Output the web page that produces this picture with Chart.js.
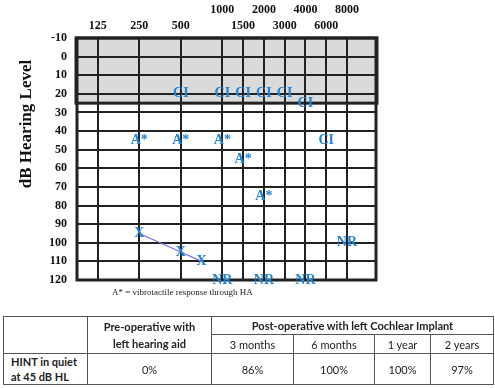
<!DOCTYPE html>
<html>
<head>
<meta charset="utf-8">
<script src="https://cdn.jsdelivr.net/npm/chart.js@4.4.1/dist/chart.umd.min.js"></script>
<style>
  body { margin: 0; background: #fff; width: 495px; height: 388px; position: relative; overflow: hidden; }
  #audiogram { position: absolute; left: 0; top: 0; }
  #note { position: absolute; left: 112px; top: 287px; font: 9px "Liberation Serif", serif; color: #222; white-space: nowrap; }
  #hint { position: absolute; left: 3px; top: 316px; border-collapse: collapse;
          font-family: Lato, sans-serif; font-size: 11px; line-height: 17px; color: #222; }
  #hint td { border: 1px solid #555; text-align: center; padding: 0; white-space: nowrap; }
  #hint td > div { overflow: hidden; }
  #hint .b { font-weight: bold; }
  #hint .row3 td { line-height: 15px; }
</style>
</head>
<body>
<canvas id="audiogram" width="495" height="300"></canvas>
<div id="note">A* = vibrotactile response through HA</div>
<table id="hint"></table>
<script>
// frequency axis (Hz) and hearing level axis (dB HL)
var freqLabels = [125, 250, 500, 1000, 1500, 2000, 3000, 4000, 6000, 8000];
var topRowFreqs = [1000, 2000, 4000, 8000];

// CI = aided thresholds with cochlear implant
var ciFreq = [500, 1000, 1500, 2000, 3000, 4000, 6000];
var ciLevel = [20, 20, 20, 20, 20, 25, 45];

// A* = vibrotactile response through hearing aid
var vibroFreq = [250, 500, 1000, 1500, 2000];
var vibroLevel = [45, 45, 45, 55, 75];

// X = unaided left ear
var leftFreq = [250, 500, 750];
var leftLevel = [95, 105, 110];

// NR = no response
var nrFreq = [1000, 2000, 4000, 8000];
var nrLevel = [120, 120, 120, 100];

// table below the audiogram
var hintPeriods = ['3 months', '6 months', '1 year', '2 years'];
var hintPreOp = '0%';
var hintPostOp = ['86%', '100%', '100%', '97%'];
var colWidths = [83, 123, 81, 80, 55, 62];

var markerBlue = '#2383d3';
var serif = '"Liberation Serif", "Times New Roman", serif';

// octaves at whole steps, inter-octaves half way between
function xPos(f) {
    var o = Math.log2(f / 125);
    var k = Math.floor(o + 1e-9);
    return Math.abs(f - 125 * Math.pow(2, k)) < 1e-6 ? k : k + 0.5;
}

function points(freqs, levels) {
    return freqs.map(function (f, i) { return { x: xPos(f), y: levels[i] }; });
}

// grey "normal hearing" band with heavy border
var normalBand = {
    id: 'normalBand',
    beforeDraw: function (chart) {
        var a = chart.chartArea, y = chart.scales.y, ctx = chart.ctx;
        var top = y.getPixelForValue(-10), bot = y.getPixelForValue(25);
        ctx.save();
        ctx.fillStyle = '#dadada';
        ctx.fillRect(a.left, top, a.right - a.left, bot - top);
        ctx.restore();
    },
    beforeDatasetsDraw: function (chart) {
        var a = chart.chartArea, y = chart.scales.y, ctx = chart.ctx;
        var top = y.getPixelForValue(-10), bot = y.getPixelForValue(25);
        ctx.save();
        ctx.strokeStyle = '#222';
        ctx.lineWidth = 3;
        ctx.strokeRect(a.left - 1, top, a.right - a.left + 2, bot - top);
        ctx.strokeRect(a.left, a.top, a.right - a.left, a.bottom - a.top);
        ctx.restore();
    }
};

// symbols drawn as text at each point
var textMarkers = {
    id: 'textMarkers',
    afterDatasetsDraw: function (chart) {
        var ctx = chart.ctx;
        chart.data.datasets.forEach(function (ds, i) {
            var meta = chart.getDatasetMeta(i);
            ctx.save();
            ctx.font = 'bold 14px ' + serif;
            ctx.fillStyle = markerBlue;
            ctx.textAlign = 'center';
            ctx.textBaseline = 'middle';
            meta.data.forEach(function (pt) {
                ctx.fillText(ds.marker, pt.x, pt.y);
            });
            ctx.restore();
        });
    },
    afterDraw: function (chart) {
        var ctx = chart.ctx;
        ctx.save();
        ctx.translate(27, 124);
        ctx.rotate(-Math.PI / 2);
        ctx.font = 'bold 17px ' + serif;
        ctx.fillStyle = '#111';
        ctx.textAlign = 'center';
        ctx.textBaseline = 'middle';
        ctx.fillText('dB Hearing Level', 0, 0);
        ctx.restore();
    }
};

var tickFont = { family: serif, weight: 'bold', size: 12, lineHeight: 1.35 };

new Chart(document.getElementById('audiogram'), {
    type: 'scatter',
    data: {
        datasets: [
            { marker: 'CI', data: points(ciFreq, ciLevel), pointRadius: 0 },
            { marker: 'A*', data: points(vibroFreq, vibroLevel), pointRadius: 0 },
            { marker: 'X', data: points(leftFreq, leftLevel), pointRadius: 0,
              showLine: true, borderColor: '#7272f0', borderWidth: 1.2 },
            { marker: 'NR', data: points(nrFreq, nrLevel), pointRadius: 0 }
        ]
    },
    options: {
        responsive: false,
        animation: false,
        layout: { padding: { left: 0, top: 0, right: 119, bottom: 20 } },
        plugins: { legend: { display: false }, tooltip: { enabled: false } },
        scales: {
            x: {
                type: 'linear',
                position: 'top',
                min: -0.5,
                max: 6.7,
                afterBuildTicks: function (s) {
                    s.ticks = freqLabels.map(function (f) { return { value: xPos(f) }; });
                },
                afterFit: function (s) { s.height = 38; },
                grid: { color: '#222', lineWidth: 2, drawTicks: false },
                border: { display: false },
                ticks: {
                    autoSkip: false,
                    maxRotation: 0,
                    padding: 4,
                    color: '#111',
                    font: tickFont,
                    callback: function (v, i) {
                        var f = freqLabels[i];
                        return topRowFreqs.indexOf(f) >= 0 ? [String(f), ''] : ['', String(f)];
                    }
                }
            },
            y: {
                reverse: true,
                min: -10,
                max: 120,
                afterFit: function (s) { s.width = 77; },
                grid: { color: '#222', lineWidth: 2, drawTicks: false },
                border: { display: false },
                ticks: { stepSize: 10, autoSkip: false, padding: 10, color: '#111', font: tickFont }
            }
        }
    },
    plugins: [normalBand, textMarkers]
});

// speech results table; a fixed-width div in each cell pins the column widths
function cell(text, cls, w, attrs, align) {
    return '<td' + (cls ? ' class="' + cls + '"' : '') + (attrs || '') + '>' +
        '<div style="width:' + w + 'px;' + (align || '') + '">' + text + '</div></td>';
}
var table = document.getElementById('hint');
var html = '<tr style="height:17px">' +
    cell('', '', colWidths[0], ' rowspan="2"') +
    cell('Pre-operative with<br>left hearing aid', 'b', colWidths[1], ' rowspan="2"') +
    '<td colspan="4" class="b">Post-operative with left Cochlear Implant</td></tr>';
html += '<tr style="height:19px">' + hintPeriods.map(function (p, i) { return cell(p, '', colWidths[i + 2]); }).join('') + '</tr>';
html += '<tr class="row3" style="height:31px">' +
    cell('HINT in quiet<br>at 45 dB HL', 'b', colWidths[0], '', 'text-align:left;box-sizing:border-box;padding-left:7px;') +
    cell(hintPreOp, '', colWidths[1]) +
    hintPostOp.map(function (v, i) { return cell(v, '', colWidths[i + 2]); }).join('') + '</tr>';
table.innerHTML = html;
</script>
</body>
</html>
